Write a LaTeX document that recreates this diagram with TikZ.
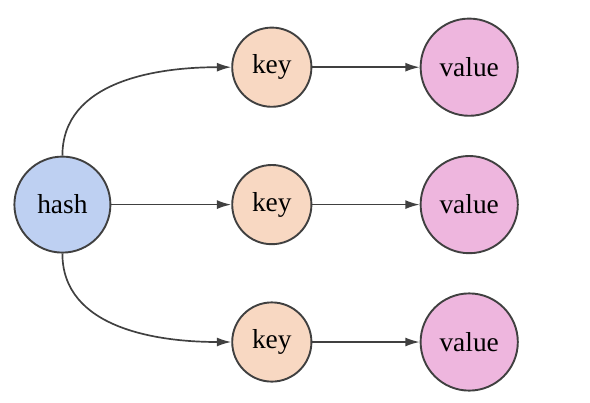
\documentclass[tikz,border=0pt]{standalone}
\usepackage{fontspec}
\setmainfont{Liberation Serif}
\usetikzlibrary{arrows.meta,positioning,calc}
\definecolor{hashblue}{RGB}{190,208,242}
\definecolor{keypeach}{RGB}{248,216,194}
\definecolor{valpink}{RGB}{238,182,222}
\definecolor{linegray}{RGB}{64,64,64}

\begin{document}
\begin{tikzpicture}[
    every node/.style={circle, draw=linegray, line width=0.9pt, inner sep=0pt, font=\fontsize{13}{15}\selectfont},
    hashnode/.style={fill=hashblue, minimum size=1.6cm},
    keynode/.style={fill=keypeach, minimum size=1.32cm},
    valnode/.style={fill=valpink, minimum size=1.62cm},
    link/.style={draw=linegray, line width=0.8pt, -{Latex[length=2.4mm,width=1.5mm]}}
  ]
    \useasboundingbox (0,0) rectangle (9.833,6.7);

    \node [hashnode] (hash) at (1.04,3.29) { hash };
    \node [keynode] (k1) at (4.53,5.58) { key };
    \node [keynode] (k2) at (4.53,3.29) { key };
    \node [keynode] (k3) at (4.53,1.0) { key };
    \node [valnode] (v1) at (7.82,5.58) { value };
    \node [valnode] (v2) at (7.82,3.29) { value };
    \node [valnode] (v3) at (7.82,1.0) { value };

    \draw [link] (hash.north) to [out=90, in=180] (k1.west);
    \draw [link] (hash.east) -- (k2.west);
    \draw [link] (hash.south) to [out=-90, in=180] (k3.west);
    \foreach \i in {1,2,3}
        \draw [link] (k\i) -- (v\i);
  \end{tikzpicture}
\end{document}
